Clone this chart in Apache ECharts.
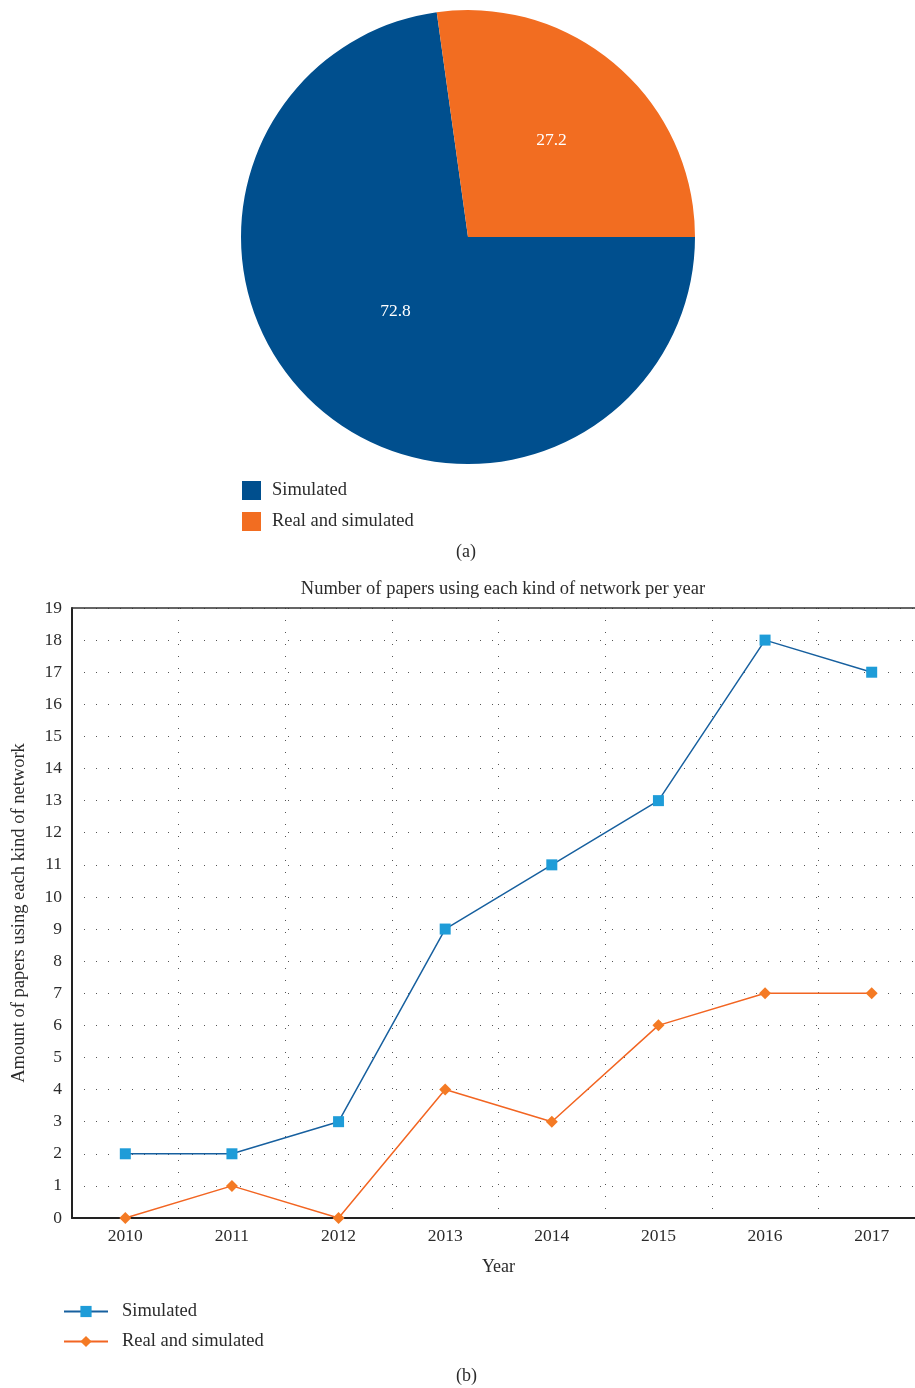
<!DOCTYPE html>
<html>
<head>
<meta charset="utf-8">
<script src="https://cdn.jsdelivr.net/npm/echarts@6/dist/echarts.min.js"></script>
<style>
  html, body { margin: 0; padding: 0; background: #fff; overflow: hidden; }
  #pie { position: absolute; left: 0; top: 0; width: 915px; height: 570px; }
  #line { position: absolute; left: 0; top: 570px; width: 925px; height: 818px; }
</style>
</head>
<body>
<div id="pie"></div>
<div id="line"></div>
<script>
// 数据
const seriesNames = ['Simulated', 'Real and simulated']
const pieValues = [72.8, 27.2]
const years = ['2010', '2011', '2012', '2013', '2014', '2015', '2016', '2017']
const simulated = [2, 2, 3, 9, 11, 13, 18, 17]
const realAndSimulated = [0, 1, 0, 4, 3, 6, 7, 7]

const serif = 'Liberation Serif'
const textColor = '#2b2b2b'

// (a) 饼图
const pieChart = echarts.init(document.getElementById('pie'))
pieChart.setOption({
  animation: false,
  color: ['#004f8e', '#f26d21'],
  legend: {
    orient: 'vertical',
    left: 242,
    top: 481,
    padding: 0,
    icon: 'rect',
    itemWidth: 19,
    itemHeight: 19,
    itemGap: 12,
    textStyle: { fontFamily: serif, fontSize: 18.5, color: textColor, padding: [0, 0, 0, 6] },
    data: seriesNames
  },
  graphic: [{
    type: 'text',
    left: 456,
    top: 543,
    style: { text: '(a)', font: '18px "Liberation Serif"', fill: textColor }
  }],
  series: [{
    type: 'pie',
    center: [468, 237],
    radius: 227,
    startAngle: 0,
    clockwise: true,
    label: {
      position: 'inside',
      formatter: '{c}',
      color: '#ffffff',
      fontFamily: serif,
      fontSize: 17.5
    },
    labelLine: { show: false },
    data: [
      { name: seriesNames[0], value: pieValues[0], label: { offset: [4, -13] } },
      { name: seriesNames[1], value: pieValues[1], label: { offset: [7, -9] } }
    ]
  }]
})

// (b) 折线图
const lineChart = echarts.init(document.getElementById('line'))
const dotted = { color: '#555', width: 1, type: [1, 11] }
lineChart.setOption({
  animation: false,
  title: {
    text: 'Number of papers using each kind of network per year',
    left: 498,
    top: 5,
    textAlign: 'center',
    textStyle: { fontFamily: serif, fontSize: 18.5, fontWeight: 'normal', color: textColor }
  },
  legend: {
    orient: 'vertical',
    left: 63,
    top: 732,
    padding: 0,
    itemWidth: 44,
    itemHeight: 14,
    itemGap: 11,
    textStyle: { fontFamily: serif, fontSize: 18.5, color: textColor, padding: [0, 0, 0, 9] },
    data: seriesNames
  },
  graphic: [{
    type: 'text',
    left: 456,
    top: 797,
    style: { text: '(b)', font: '18px "Liberation Serif"', fill: textColor }
  }],
  grid: { left: 72, right: 0, top: 38, bottom: 170 },
  xAxis: [{
    type: 'category',
    data: years,
    boundaryGap: true,
    name: 'Year',
    nameLocation: 'middle',
    nameGap: 40,
    nameTextStyle: { fontFamily: serif, fontSize: 18, color: textColor },
    axisLine: { lineStyle: { color: '#222', width: 2 } },
    axisTick: { show: false },
    axisLabel: { fontFamily: serif, fontSize: 17.5, color: textColor, margin: 9 },
    splitLine: { show: true, interval: 0, lineStyle: dotted }
  }, {
    type: 'category',
    data: years,
    position: 'top',
    axisLine: { lineStyle: { color: '#333', width: 1.5 } },
    axisTick: { show: false },
    axisLabel: { show: false }
  }],
  yAxis: {
    type: 'value',
    min: 0,
    max: 19,
    interval: 1,
    name: 'Amount of papers using each kind of network',
    nameLocation: 'middle',
    nameGap: 43,
    nameTextStyle: { fontFamily: serif, fontSize: 18.5, color: textColor },
    axisLine: { show: true, lineStyle: { color: '#222', width: 2 } },
    axisTick: { show: false },
    axisLabel: { fontFamily: serif, fontSize: 17.5, color: textColor, margin: 10 },
    splitLine: { show: true, lineStyle: dotted }
  },
  series: [{
    name: seriesNames[0],
    type: 'line',
    data: simulated,
    symbol: 'rect',
    symbolSize: 11,
    lineStyle: { color: '#17609f', width: 1.5 },
    itemStyle: { color: '#1e9cd8' }
  }, {
    name: seriesNames[1],
    type: 'line',
    data: realAndSimulated,
    symbol: 'diamond',
    symbolSize: 12,
    lineStyle: { color: '#f26522', width: 1.5 },
    itemStyle: { color: '#f47a24' }
  }]
})
</script>
</body>
</html>
